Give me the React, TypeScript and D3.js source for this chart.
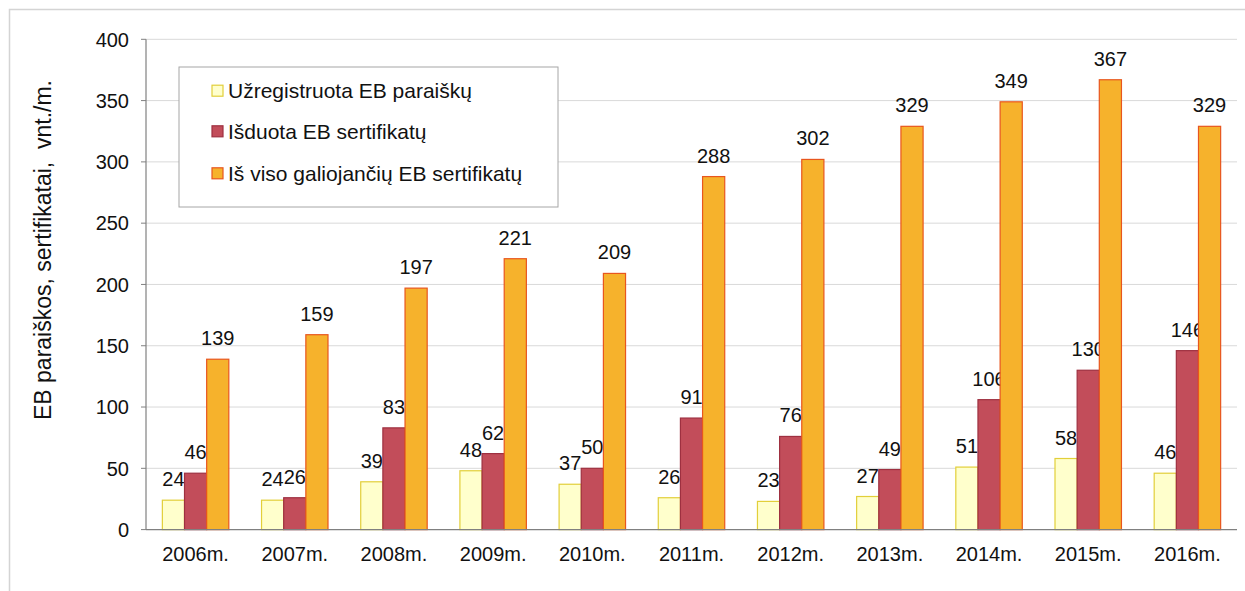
import React from "react";
import * as d3 from "d3";

const categories = ["2006m.", "2007m.", "2008m.", "2009m.", "2010m.", "2011m.", "2012m.", "2013m.", "2014m.", "2015m.", "2016m."];
const registered = [24, 24, 39, 48, 37, 26, 23, 27, 51, 58, 46];
const issued = [46, 26, 83, 62, 50, 91, 76, 49, 106, 130, 146];
const totalValid = [139, 159, 197, 221, 209, 288, 302, 329, 349, 367, 329];
const seriesNames = ["Užregistruota EB paraiškų", "Išduota EB sertifikatų", "Iš viso galiojančių EB sertifikatų"];
const yTicks = [0, 50, 100, 150, 200, 250, 300, 350, 400];
const yTitle = "EB paraiškos, sertifikatai,  vnt./m.";

const fills = ["#FFFFCC", "#C24D5A", "#F6B22C"];
const strokes = ["#E2CF3A", "#9E3040", "#E8561E"];

export default function App() {
  const W = 1245, H = 591;
  const left = 146, right = 1237, top = 39.3, bottom = 529.6;
  const font = "'Liberation Sans', Arial, sans-serif";
  const x0 = d3.scaleBand<string>().domain(categories).range([left, right]).paddingInner(0.33).paddingOuter(0.165);
  const x1 = d3.scaleBand<number>().domain([0, 1, 2]).range([0, x0.bandwidth()]);
  const y = d3.scaleLinear().domain([0, 400]).range([bottom, top]);
  const series = [registered, issued, totalValid];

  return (
    <svg width={W} height={H} style={{ position: "absolute", left: 0, top: 0, background: "#fff" }} fontFamily={font}>
      <rect x={9.5} y={9.5} width={1240} height={600} fill="none" stroke="#d4d4d4" strokeWidth={1.5} />
      {yTicks.map((t) => (
        <g key={t}>
          {t > 0 && <line x1={left} x2={right} y1={y(t)} y2={y(t)} stroke="#d9d9d9" strokeWidth={1} />}
          <line x1={left - 5} x2={left} y1={y(t)} y2={y(t)} stroke="#808080" />
          <text x={129} y={y(t)} dy="0.36em" textAnchor="end" fontSize={20} fill="#111">{t}</text>
        </g>
      ))}
      <line x1={left} x2={left} y1={top} y2={bottom} stroke="#808080" strokeWidth={1.2} />
      {categories.map((c, i) => (
        <g key={c}>
          {series.map((s, k) => {
            const bx = (x0(c) as number) + (x1(k) as number);
            const bw = x1.bandwidth();
            return (
              <g key={k}>
                <rect x={bx} y={y(s[i])} width={bw} height={bottom - y(s[i])} fill={fills[k]} stroke={strokes[k]} strokeWidth={1.2} />
                <text x={bx + bw / 2} y={y(s[i]) - 14} textAnchor="middle" fontSize={20} fill="#111">{s[i]}</text>
              </g>
            );
          })}
          <text x={(x0(c) as number) + x0.bandwidth() / 2} y={554} dy="0.36em" textAnchor="middle" fontSize={20} fill="#111">{c}</text>
        </g>
      ))}
      <line x1={left} x2={right} y1={bottom} y2={bottom} stroke="#808080" strokeWidth={1.2} />
      <text transform={`translate(43,250) rotate(-90)`} textAnchor="middle" dy="0.36em" fontSize={23} fill="#111" style={{ whiteSpace: "pre" }}>{yTitle}</text>
      <rect x={179} y={67} width={379} height={140} fill="#fff" stroke="#a6a6a6" strokeWidth={1} />
      {seriesNames.map((n, k) => {
        const ly = [90.7, 131.3, 173.3][k];
        return (
          <g key={n}>
            <rect x={212} y={ly - 5.5} width={11} height={11} fill={fills[k]} stroke={strokes[k]} strokeWidth={1.2} />
            <text x={228} y={ly} dy="0.36em" fontSize={21} fill="#111">{n}</text>
          </g>
        );
      })}
    </svg>
  );
}
